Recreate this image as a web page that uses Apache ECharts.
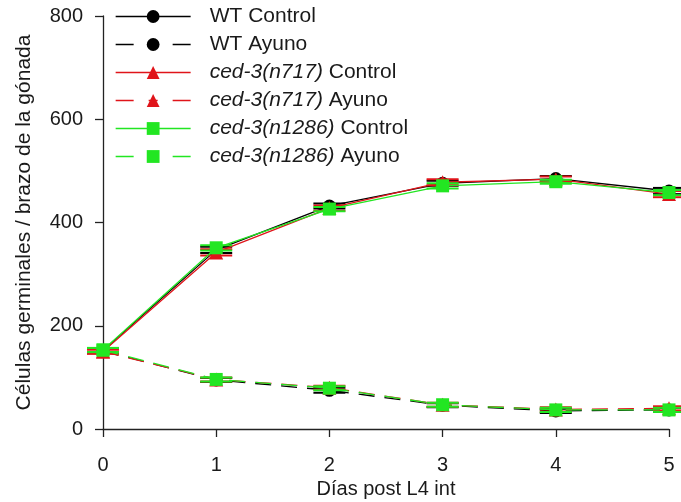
<!DOCTYPE html>
<html><head><meta charset="utf-8">
<script src="https://cdn.jsdelivr.net/npm/echarts@6/dist/echarts.min.js"></script>
<style>html,body{margin:0;padding:0;background:#fff}#c{width:681px;height:502px}</style>
</head><body><div id="c"></div>
<script>
// Germ cells per gonad arm over days after L4 (means and error)
const days = [0, 1, 2, 3, 4, 5];
const yTicks = [0, 200, 400, 600, 800];

const wtControl     = [152, 347, 432, 476, 485, 461];
const wtAyuno       = [151,  95,  75,  46,  35,  37];
const n717Control   = [150, 342, 428, 478, 484, 455];
const n717Ayuno     = [150,  96,  80,  47,  38,  40];
const n1286Control  = [153, 351, 426, 471, 479, 458];
const n1286Ayuno    = [153,  96,  79,  47,  37,  37];

const wtControlErr    = [4, 6, 5, 5, 5, 6];
const wtAyunoErr      = [4, 4, 5, 4, 4, 4];
const n717ControlErr  = [4, 6, 5, 6, 5, 6];
const n717AyunoErr    = [4, 4, 4, 4, 4, 4];
const n1286ControlErr = [4, 5, 4, 5, 4, 5];
const n1286AyunoErr   = [4, 4, 4, 4, 4, 4];

const BLACK = '#000000', RED = '#e0141a', GREEN = '#22e622';

const groups = [
  { name: 'WT Control',          vals: wtControl,    err: wtControlErr,    color: BLACK, symbol: 'circle',   dashed: false },
  { name: 'WT Ayuno',            vals: wtAyuno,      err: wtAyunoErr,      color: BLACK, symbol: 'circle',   dashed: true },
  { name: 'ced-3(n717) Control', vals: n717Control,  err: n717ControlErr,  color: RED,   symbol: 'triangle', dashed: false },
  { name: 'ced-3(n717) Ayuno',   vals: n717Ayuno,    err: n717AyunoErr,    color: RED,   symbol: 'triangle', dashed: true },
  { name: 'ced-3(n1286) Control',vals: n1286Control, err: n1286ControlErr, color: GREEN, symbol: 'rect',     dashed: false },
  { name: 'ced-3(n1286) Ayuno',  vals: n1286Ayuno,   err: n1286AyunoErr,   color: GREEN, symbol: 'rect',     dashed: true }
];

function errorBars(color) {
  return function (params, api) {
    const x = api.value(0), y = api.value(1), e = api.value(2);
    const hi = api.coord([x, y + e]);
    const lo = api.coord([x, y - e]);
    const hw = 16;
    const st = { stroke: color, lineWidth: 2 };
    return {
      type: 'group',
      children: [
        { type: 'line', shape: { x1: hi[0], y1: hi[1], x2: lo[0], y2: lo[1] }, style: st },
        { type: 'line', shape: { x1: hi[0] - hw, y1: hi[1], x2: hi[0] + hw, y2: hi[1] }, style: st },
        { type: 'line', shape: { x1: lo[0] - hw, y1: lo[1], x2: lo[0] + hw, y2: lo[1] }, style: st }
      ]
    };
  };
}

const series = [];
groups.forEach((g, i) => {
  series.push({
    type: 'custom',
    name: g.name + ' err',
    renderItem: errorBars(g.color),
    data: days.map((d, k) => [d, g.vals[k], g.err[k]]),
    z: 2 + i * 2,
    clip: false,
    silent: true
  });
});
groups.forEach((g, i) => {
  series.push({
    type: 'line',
    name: g.name,
    data: days.map((d, k) => [d, g.vals[k]]),
    symbol: g.symbol,
    symbolSize: g.symbol === 'triangle' ? 14 : 13,
    showSymbol: true,
    lineStyle: { color: g.color, width: 1.3, type: g.dashed ? [16, 10] : 'solid' },
    itemStyle: { color: g.color },
    z: 3 + i * 2,
    clip: false,
    animation: false
  });
});

const fontFamily = '"Liberation Sans", Arial, sans-serif';
const textColor = '#1a1a1a';

const option = {
  animation: false,
  backgroundColor: '#ffffff',
  grid: { left: 103, right: 12, top: 16, bottom: 73, containLabel: false, outerBoundsMode: 'none' },
  legend: {
    orient: 'vertical',
    left: 110,
    top: 1,
    itemWidth: 75,
    itemHeight: 16,
    itemGap: 7,
    data: groups.map(g => ({
      name: g.name,
      // dash sits under the marker, leaving a short dash at each end
      lineStyle: { type: g.dashed ? [18, 15, 9, 15, 18] : 'solid', width: 1.3 }
    })),
    textStyle: {
      fontFamily: fontFamily,
      fontSize: 21,
      color: textColor,
      padding: [0, 0, 0, 14],
      rich: {
        i: { fontStyle: 'italic', fontFamily: fontFamily, fontSize: 21, color: textColor },
        n: { fontFamily: fontFamily, fontSize: 21, color: textColor }
      }
    },
    formatter: function (name) {
      const m = name.match(/^(ced-3\([^)]*\))(.*)$/);
      if (m) return '{i|' + m[1] + '}{n|' + m[2] + '}';
      return '{n|' + name + '}';
    },
    selectedMode: false
  },
  xAxis: {
    type: 'value',
    min: 0, max: 5, interval: 1,
    name: 'Días post L4 int',
    nameLocation: 'middle',
    nameGap: 49,
    nameTextStyle: { fontFamily: fontFamily, fontSize: 20, color: textColor },
    axisLine: { show: true, lineStyle: { color: '#222', width: 1.3 } },
    axisTick: { show: true, inside: false, length: 8, lineStyle: { color: '#222', width: 1.3 } },
    axisLabel: { fontFamily: fontFamily, fontSize: 20, color: textColor, margin: 26,
      formatter: v => String(days[v] !== undefined ? days[v] : v) },
    splitLine: { show: false }
  },
  yAxis: {
    type: 'value',
    min: yTicks[0], max: yTicks[yTicks.length - 1], interval: 200,
    name: 'Células germinales / brazo de la gónada',
    nameLocation: 'middle',
    nameGap: 68,
    nameTextStyle: { fontFamily: fontFamily, fontSize: 21, color: textColor },
    axisLine: { show: true, lineStyle: { color: '#222', width: 1.3 } },
    axisTick: { show: true, inside: false, length: 8, lineStyle: { color: '#222', width: 1.3 } },
    axisLabel: { fontFamily: fontFamily, fontSize: 20, color: textColor, margin: 20 },
    splitLine: { show: false }
  },
  series: series
};

const chart = echarts.init(document.getElementById('c'), null, { renderer: 'canvas' });
chart.setOption(option);
</script>
</body></html>
